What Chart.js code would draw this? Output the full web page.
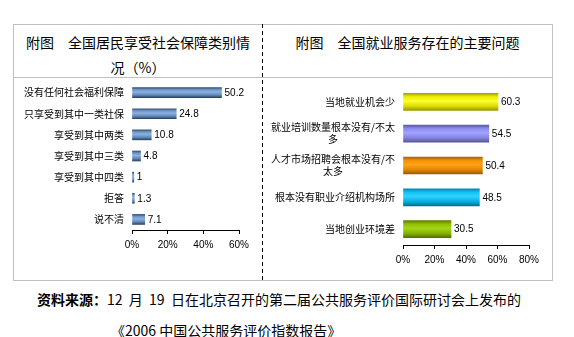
<!DOCTYPE html>
<html>
<head>
<meta charset="utf-8">
<script src="https://cdn.jsdelivr.net/npm/chart.js@4/dist/chart.umd.min.js"></script>
<style>
body { margin: 0; background: #fff; }
#page { position: relative; width: 574px; height: 337px; background: #fff;
        font-family: "Noto Sans CJK SC", sans-serif; color: #000; overflow: hidden; }
.rule { position: absolute; background: #c0c0c0; }
.divider { position: absolute; left: 262px; top: 24px; width: 1px; height: 257px;
           background: repeating-linear-gradient(to bottom, #000 0 4px, transparent 4px 7px); }
.title { position: absolute; top: 30px; font-size: 14px; line-height: 25px; text-align: center; white-space: nowrap; }
.note { position: absolute; font-size: 14px; line-height: 16px; white-space: nowrap; }
canvas { position: absolute; }
</style>
</head>
<body>
<div id="page">
  <div class="rule" style="left:13px;top:24px;width:540px;height:1px"></div>
  <div class="rule" style="left:13px;top:77px;width:540px;height:1px"></div>
  <div class="rule" style="left:13px;top:280px;width:540px;height:1px"></div>
  <div class="rule" style="left:13px;top:24px;width:1px;height:257px"></div>
  <div class="rule" style="left:552px;top:24px;width:1px;height:257px"></div>
  <div class="divider"></div>

  <div class="title" style="left:14px;width:248px">附图　全国居民享受社会保障类别情<br>况（%）</div>
  <div class="title" style="left:263px;width:289px">附图　全国就业服务存在的主要问题</div>

  <canvas id="socialChart" width="246" height="190" style="left:14px;top:80px"></canvas>
  <canvas id="jobChart" width="287" height="195" style="left:264px;top:80px"></canvas>

  <div class="note" style="left:37px;top:291px"><b>资料来源：</b>12&nbsp;&nbsp;月&nbsp;&nbsp;19&nbsp;&nbsp;日在北京召开的第二届公共服务评价国际研讨会上发布的</div>
  <div class="note" style="left:111px;top:322px">《2006&nbsp;中国公共服务评价指数报告》</div>
</div>

<script>
// 社会保障类别（%）
var socialLabels = [["没有任何社会福利保障"], ["只享受到其中一类社保"], ["享受到其中两类"],
                    ["享受到其中三类"], ["享受到其中四类"], ["拒答"], ["说不清"]];
var socialValues = [50.2, 24.8, 10.8, 4.8, 1, 1.3, 7.1];
var socialTicks = [0, 20, 40, 60];

// 就业服务主要问题（%）
var jobLabels = [["当地就业机会少"], ["就业培训数量根本没有/不太", "多"],
                 ["人才市场招聘会根本没有/不", "太多"], ["根本没有职业介绍机构场所"], ["当地创业环境差"]];
var jobValues = [60.3, 54.5, 50.4, 48.5, 30.5];
var jobTicks = [0, 20, 40, 60, 80];

// cylinder-like shading, top to bottom
var steelShade = ['#34506f', '#6c96c8', '#8cb1dd', '#5f87b8', '#2c4563'];
var jobShades = [
    ['#a6a600', '#eeee00', '#ffff33', '#dcdc00', '#9a9a00'],
    ['#5c5ca8', '#8c8cf0', '#a3a3ff', '#8282e0', '#58588f'],
    ['#a86400', '#f29100', '#ffa31a', '#e08600', '#9a5a00'],
    ['#0088b0', '#12c2f2', '#33d1ff', '#00b0e0', '#00728f'],
    ['#5f7f00', '#8fbf00', '#a6d61a', '#86b300', '#557000']
];

var numFont = { family: '"Liberation Sans", Arial, sans-serif', size: 10 };
var catFont = '10px "Noto Sans CJK SC", sans-serif';

function shaded(pick, thickness) {
    return function (c) {
        var chart = c.chart, y = chart.scales.y;
        var stops = pick(c.dataIndex);
        if (!y || c.dataIndex === undefined) return stops[2];
        var cy = y.getPixelForValue(c.dataIndex);
        if (!isFinite(cy)) return stops[2];
        var g = chart.ctx.createLinearGradient(0, cy - thickness / 2, 0, cy + thickness / 2);
        g.addColorStop(0, stops[0]);
        g.addColorStop(0.2, stops[1]);
        g.addColorStop(0.45, stops[2]);
        g.addColorStop(0.75, stops[3]);
        g.addColorStop(1, stops[4]);
        return g;
    };
}

// value next to each bar + wrapped category names (lines centred, block right-aligned)
var barText = {
    id: 'barText',
    afterDatasetsDraw: function (chart, args, opts) {
        var ctx = chart.ctx;
        var meta = chart.getDatasetMeta(0);
        var values = chart.data.datasets[0].data;
        ctx.save();
        ctx.fillStyle = '#000';
        ctx.textBaseline = 'middle';
        ctx.font = numFont.size + 'px ' + numFont.family;
        ctx.textAlign = 'left';
        meta.data.forEach(function (bar, i) {
            ctx.fillText(String(values[i]), bar.x + 3, bar.y + 0.5);
        });
        ctx.font = catFont;
        ctx.textAlign = 'center';
        var right = chart.chartArea.left - opts.gap;
        chart.data.labels.forEach(function (lines, i) {
            var cy = chart.scales.y.getPixelForValue(i);
            var w = Math.max.apply(null, lines.map(function (l) { return ctx.measureText(l).width; }));
            var top = cy - (lines.length - 1) * opts.lineHeight / 2;
            lines.forEach(function (l, k) {
                ctx.fillText(l, right - w / 2, top + k * opts.lineHeight);
            });
        });
        ctx.restore();
    }
};

function makeChart(id, labels, values, ticks, fill, thickness, cfg) {
    return new Chart(document.getElementById(id), {
        type: 'bar',
        data: {
            labels: labels,
            datasets: [{ data: values, backgroundColor: fill, borderWidth: 0, barThickness: thickness }]
        },
        options: {
            indexAxis: 'y',
            responsive: false,
            animation: false,
            devicePixelRatio: 1,
            layout: { padding: { top: cfg.top, right: cfg.right, left: 0, bottom: 0 } },
            plugins: {
                legend: { display: false },
                tooltip: { enabled: false },
                barText: { gap: cfg.gap, lineHeight: 12 }
            },
            scales: {
                y: {
                    grid: { display: false },
                    border: { display: false },
                    ticks: { display: false },
                    afterFit: function (s) { s.width = cfg.axisWidth; }
                },
                x: {
                    min: ticks[0],
                    max: ticks[ticks.length - 1],
                    afterBuildTicks: function (s) { s.ticks = ticks.map(function (v) { return { value: v }; }); },
                    grid: { drawOnChartArea: false, color: '#000', tickLength: 4 },
                    border: { color: '#000' },
                    ticks: {
                        color: '#000', font: numFont, padding: 5, maxRotation: 0,
                        callback: function (v) { return v + '%'; }
                    },
                    afterFit: function (s) { s.height = cfg.axisHeight; }
                }
            }
        },
        plugins: [barText]
    });
}

makeChart('socialChart', socialLabels, socialValues, socialTicks,
    shaded(function () { return steelShade; }, 10), 10,
    { top: 2, right: 21, gap: 8, axisWidth: 118, axisHeight: 40 });

makeChart('jobChart', jobLabels, jobValues, jobTicks,
    shaded(function (i) { return jobShades[i]; }, 17), 17,
    { top: 6, right: 22, gap: 8, axisWidth: 139, axisHeight: 30 });
</script>
</body>
</html>
